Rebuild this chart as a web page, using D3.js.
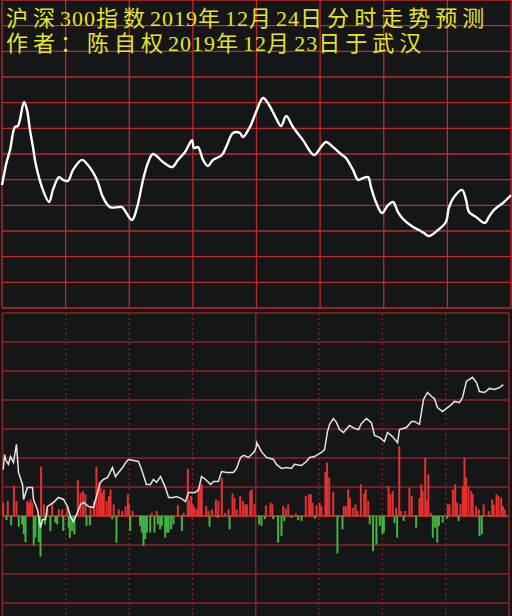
<!DOCTYPE html>
<html>
<head>
<meta charset="utf-8">
<script src="https://cdn.jsdelivr.net/npm/d3@7"></script>
<style>
  body { margin: 0; background: #151618; }
  svg { display: block; }
</style>
</head>
<body>
<div class="chart"></div>
<script>
// Title lines.
const titleLines = [
    '沪深300指数2019年12月24日分时走势预测',
    '作者：陈自权2019年12月23日于武汉'
];

// Top panel: predicted index curve (minute of session, grid units).
const priceMinutes = [0, 2.2, 3.8, 6.1, 7.5, 10.4, 11.8, 13.2, 14.6, 16.0, 19.3, 22.2, 24.0, 26.9, 28.8, 31.1,
    33.5, 37.7, 40.5, 44.8, 47.6, 50.9, 54.7, 56.6, 61.3, 63.7, 66.5, 68.8, 71.2, 75.9, 80.2, 83.0,
    86.3, 89.6, 90.5, 92.4, 94.8, 97.1, 99.5, 103.7, 106.1, 108.9, 112.2, 113.6, 116.9, 119.8, 123.1,
    125.9, 129.2, 131.6, 134.0, 137.2, 141.9, 147.1, 150.4, 152.8, 156.1, 159.8, 162.2, 165.5, 167.9,
    170.2, 172.6, 174.0, 176.3, 179.2, 182.0, 184.4, 186.7, 189.5, 193.8, 196.6, 199.0, 201.3, 205.6,
    209.3, 210.7, 213.1, 216.9, 218.8, 220.2, 223.5, 227.7, 229.6, 232.0, 236.2, 240];
const priceValues = [4.79, 5.69, 6.16, 7.05, 7.09, 8.03, 7.71, 6.93, 6.27, 5.57, 4.60, 4.13, 4.60, 5.10, 4.99, 4.95,
    5.38, 5.77, 5.57, 4.99, 4.32, 3.93, 3.93, 3.93, 3.43, 3.93, 4.99, 5.65, 6.00, 5.69, 5.49, 5.77,
    6.08, 6.54, 6.23, 6.27, 5.77, 5.53, 5.77, 5.96, 6.35, 6.82, 6.82, 6.66, 7.05, 7.64, 8.18,
    7.91, 7.40, 7.09, 7.48, 7.05, 6.54, 5.96, 6.27, 6.47, 6.27, 6.00, 5.84, 5.38, 4.99,
    5.06, 5.10, 4.71, 4.13, 3.70, 4.01, 4.13, 3.74, 3.43, 3.16, 3.04, 2.92, 2.80, 3.04,
    3.35, 3.90, 4.32, 4.60, 4.21, 3.74, 3.55, 3.31, 3.55, 3.82, 4.09, 4.40];

// Bottom panel: white flow line.
const flowMinutes = [0.3, 1.0, 1.4, 2.8, 3.8, 5.2, 6.6, 7.6, 9.5, 10.0, 11.8, 14.2, 14.7, 16.6, 18.0, 19.0, 20.4,
    21.3, 24.2, 26.5, 28.9, 30.8, 32.2, 33.6, 35.5, 37.0, 38.4, 40.7, 43.1, 45.0, 46.4, 47.8, 49.8,
    52.1, 53.5, 55.0, 56.9, 58.3, 59.7, 64.4, 65.9, 68.2, 70.1, 71.5, 73.0, 74.9, 77.2, 78.7, 81.0,
    82.4, 84.8, 86.7, 88.1, 91.4, 92.9, 94.3, 96.2, 98.6, 100.0, 102.3, 103.8, 106.1, 109.4, 110.9,
    112.8, 114.2, 116.6, 118.0, 119.4, 120.3, 120.5, 122.7, 125.1, 128.4, 129.8, 132.2, 134.6, 136.9,
    138.3, 141.7, 144.0, 145.5, 147.8, 151.1, 152.6, 154.0, 155.0, 156.8, 158.3, 159.7, 161.6, 164.4,
    166.8, 168.7, 170.1, 172.5, 174.8, 176.3, 178.6, 181.0, 182.4, 184.8, 187.2, 188.1, 191.4, 193.8,
    195.2, 197.6, 198.5, 199.5, 201.4, 203.3, 204.7, 206.1, 208.5, 210.4, 212.7, 214.2, 216.5, 218.0,
    219.8, 222.7, 224.6, 226.0, 228.4, 230.7, 233.1, 235.5, 237.3];
const flowValues = [1.60, 2.12, 1.95, 1.78, 2.05, 1.84, 2.47, 1.50, 1.09, 0.57, 0.98, 0.98, 0.57, 0.22, -0.40, -0.12, -0.12,
    0.33, 0.47, 0.64, 0.57, 0.33, -0.02, -0.19, 0.12, 0.40, 0.47, 0.33, 0.29, 0.81, 1.16, 1.26, 1.33,
    1.67, 1.36, 1.50, 1.67, 1.84, 1.95, 1.88, 1.60, 1.09, 1.09, 1.26, 1.16, 1.36, 0.98, 0.64, 0.64,
    0.67, 0.60, 0.50, 0.81, 0.81, 0.91, 1.36, 1.26, 1.09, 1.19, 1.19, 1.53, 1.50, 1.50, 1.64,
    2.02, 2.09, 2.02, 2.12, 2.22, 2.40, 2.53, 2.22, 2.02, 1.95, 1.78, 1.64, 1.67, 1.64,
    1.78, 1.74, 1.88, 2.02, 2.05, 2.19, 2.29, 2.91, 3.16, 3.36, 3.22, 2.98, 2.88, 3.12,
    3.02, 2.98, 3.19, 3.36, 3.22, 2.78, 2.71, 2.57, 2.88, 2.74, 2.53, 2.98, 3.05, 3.26,
    3.26, 3.16, 3.57, 4.02, 4.26, 4.12, 4.05, 3.74, 3.60, 3.71, 3.84, 3.95, 3.91, 4.09,
    4.64, 4.78, 4.60, 4.29, 4.26, 4.40, 4.36, 4.43, 4.53];

// Bottom panel: per-minute bars (positive red, negative green).
const barMinutes = [0.3, 1.9, 2.5, 4.1, 5.4, 6.6, 7.7, 9.3, 10.1, 10.9, 11.7, 12.5, 13.3, 14.1, 14.8, 15.6, 17.2, 18.0,
    18.3, 19.6, 20.1, 21.2, 22.7, 23.5, 25.1, 25.9, 26.7, 28.3, 28.8, 30.7, 31.4, 31.9, 33.0, 34.1, 35.7,
    37.0, 38.2, 39.3, 39.8, 41.4, 41.7, 43.3, 44.5, 45.6, 46.4, 47.2, 48.0, 49.3, 50.4, 51.2, 52.0, 52.7,
    54.0, 55.1, 56.7, 58.3, 59.4, 60.0, 60.5, 61.6, 65.2, 66.0, 66.8, 67.6, 68.4, 70.0, 70.7, 72.0, 73.1,
    73.6, 74.7, 75.5, 77.1, 77.9, 78.7, 79.9, 81.0, 83.1, 85.0, 85.8, 87.8, 88.5, 89.4, 90.2, 91.0, 92.1,
    92.9, 93.7, 94.4, 96.5, 97.6, 98.1, 99.2, 101.1, 102.0, 102.3, 103.9, 105.5, 107.1, 107.6, 109.0,
    109.9, 111.0, 112.6, 113.9, 115.0, 115.8, 117.4, 118.1, 119.4, 121.6, 122.7, 124.3, 124.8, 127.0,
    127.9, 128.3, 130.6, 132.2, 133.0, 133.5, 134.2, 135.4, 136.9, 139.0, 140.1, 141.7, 143.7, 145.3,
    146.1, 146.9, 148.0, 148.8, 150.3, 151.1, 153.0, 153.8, 154.8, 156.7, 158.7, 161.1, 161.7, 162.7,
    163.8, 164.6, 166.2, 167.3, 168.2, 169.8, 171.4, 172.1, 173.3, 174.0, 175.6, 177.2, 178.8, 180.0,
    180.7, 182.9, 183.8, 184.9, 185.7, 186.5, 187.0, 188.0, 188.9, 190.1, 190.8, 192.8, 193.9, 196.0,
    197.6, 198.4, 199.1, 200.3, 201.0, 201.8, 203.1, 203.9, 205.0, 206.0, 206.8, 208.6, 210.7, 211.0,
    211.8, 213.4, 214.5, 215.4, 216.1, 217.0, 218.1, 218.9, 219.7, 220.8, 222.1, 222.8, 224.4, 225.7,
    226.0, 227.1, 228.0, 230.4, 231.2, 232.0, 232.8, 234.1, 235.0, 236.3, 237.1, 237.9];
const barValues = [0.46, -0.14, 0.52, -0.32, 1.03, 0.52, -0.37, -0.29, -0.63, -0.90, 0.52, 0.46, 0.57, 0.46, -1.01, -0.75, -0.90, -1.40,
    1.70, 0.40, -0.29, 0.29, -0.52, 0.46, -0.23, -0.29, 0.23, 0.23, -0.52, 0.34, -0.40, -0.75, -0.52, -0.63, 1.24,
    0.80, 0.86, 0.75, -0.34, -0.32, 0.34, 0.52, 1.70, 1.15, 0.98, 0.80, 0.92, 0.52, 0.69, 0.92, -0.11, 0.40,
    -0.92, 0.23, 0.17, 0.34, 0.75, 0.40, -0.52, 0.17, -0.34, -0.57, -1.03, -0.80, -0.57, -0.57, 0.11, -0.57, 0.17,
    -0.29, -0.46, -0.34, -0.75, -0.57, -0.57, -0.46, -0.29, 0.37, -0.52, 0.11, 1.63, 0.52, 0.69, 0.40, 0.29, 0.23,
    0.92, 1.09, 1.09, 0.34, 0.17, -0.37, 0.23, 0.57, -0.06, 0.52, 1.32, 0.11, 0.23, -0.46, 0.78,
    0.63, 0.23, 0.69, 0.52, 0.40, 0.40, 0.86, 0.92, 0.40, -0.29, -0.34, -0.11, 0.37, 0.46,
    0.40, -0.11, -0.92, -0.69, 0.34, -0.17, 0.25, 0.40, -0.06, 0.09, -0.14, -0.17, 0.69, 0.75,
    0.75, 0.46, -0.09, 0.37, 0.46, 0.34, 1.52, 1.84, 1.32, 0.83, -1.29, -0.46, 0.34, 0.34,
    0.92, 0.63, 0.29, 0.40, 0.17, 1.09, 0.78, 0.92, 0.52, -0.29, -1.21, -0.98, -0.34, -0.63,
    -0.57, 1.03, 0.75, 0.86, -0.25, 0.29, -0.75, 2.41, 0.17, -0.17, 0.17, 0.98, 0.69, -0.40,
    0.63, 1.09, 0.86, 2.01, 0.52, 1.44, 0.11, -0.75, -0.40, -0.92, -0.34, -0.23, -0.09, 0.40,
    0.40, 0.92, 1.09, 0.46, -0.17, 0.40, 1.03, 2.01, 1.32, 1.03, 0.86, 0.75, 0.34, 0.23,
    -0.69, -0.63, 0.40, 0.17, -0.03, 0.57, 0.40, 0.75, 0.69, 0.63, 0.34, 0.23];

const gridMinutes = [0, 30, 60, 90, 120, 150, 180, 210, 240];

// Build constants.
const width = 512,
      height = 616;

const svg = d3.select('.chart')
    .append('svg')
        .attr('width', width)
        .attr('height', height);

svg.append('rect')
    .attr('width', width)
    .attr('height', height)
    .attr('fill', '#151618');

// Scales.
const xTop = d3.scaleLinear().domain([0, 240]).range([2, 511]);
const yTop = d3.scaleLinear().domain([0, 12]).range([308, 0]);
const xBot = d3.scaleLinear().domain([0, 240]).range([2.5, 509]);
const yBot = d3.scaleLinear().domain([-4, 7]).range([632, 313]);

// Top grid.
const topGrid = svg.append('g').attr('class', 'top-grid')
    .attr('stroke', '#bd2a2a')
    .attr('stroke-width', 1.3);

topGrid.selectAll('line.h')
    .data(d3.range(0, 13))
    .join('line')
        .attr('class', 'h')
        .attr('x1', xTop(0)).attr('x2', xTop(240))
        .attr('y1', d => yTop(d)).attr('y2', d => yTop(d));

topGrid.selectAll('line.v')
    .data(gridMinutes)
    .join('line')
        .attr('class', 'v')
        .attr('x1', d => xTop(d)).attr('x2', d => xTop(d))
        .attr('y1', yTop(12)).attr('y2', yTop(0));

// Top curve.
const priceLine = d3.line()
    .x((d, i) => xTop(priceMinutes[i]))
    .y(d => yTop(d))
    .curve(d3.curveCatmullRom.alpha(0.5));

svg.append('path')
    .datum(priceValues)
    .attr('fill', 'none')
    .attr('stroke', '#ffffff')
    .attr('stroke-width', 2.4)
    .attr('stroke-linejoin', 'round')
    .attr('d', priceLine);

// Titles: one text per line, per-glyph dx gives CJK and digits their own spacing.
const isDigit = c => /\d/.test(c);

svg.append('g').attr('class', 'title')
    .attr('fill', '#e6e232')
    .attr('font-size', 22)
    .attr('font-family', '"Liberation Serif", "Noto Sans CJK SC", serif')
    .selectAll('text')
    .data(titleLines)
    .join('text')
        .attr('x', 6)
        .attr('y', (d, k) => 25.5 + k * 25.5)
        .attr('dx', d => Array.from(d).map((c, i, a) => i === 0 ? 0 : (isDigit(a[i - 1]) ? 1 : 5)).join(' '))
        .text(d => d);

// Bottom grid.
const botGrid = svg.append('g').attr('class', 'bottom-grid')
    .attr('stroke', '#8c2424')
    .attr('stroke-width', 1.5);

botGrid.selectAll('line.h')
    .data(d3.range(-3, 8))
    .join('line')
        .attr('class', 'h')
        .attr('x1', xBot(0)).attr('x2', xBot(240))
        .attr('y1', d => yBot(d)).attr('y2', d => yBot(d));

botGrid.selectAll('line.v')
    .data(gridMinutes)
    .join('line')
        .attr('class', 'v')
        .attr('x1', d => xBot(d)).attr('x2', d => xBot(d))
        .attr('y1', yBot(7)).attr('y2', height)
        .attr('stroke-width', d => d % 120 === 0 ? 1.5 : 1.3)
        .attr('stroke-dasharray', d => d % 120 === 0 ? null : '2,3');

// Zero line.
svg.append('line')
    .attr('x1', xBot(0)).attr('x2', xBot(240))
    .attr('y1', yBot(0)).attr('y2', yBot(0))
    .attr('stroke', '#b82c2c')
    .attr('stroke-width', 2.2);

// Bars.
svg.append('g').attr('class', 'bars')
    .selectAll('rect')
    .data(barValues)
    .join('rect')
        .attr('x', (d, i) => xBot(barMinutes[i]) - 1)
        .attr('width', 2)
        .attr('y', d => d > 0 ? yBot(d) : yBot(0))
        .attr('height', d => Math.abs(yBot(d) - yBot(0)))
        .attr('fill', d => d > 0 ? '#e63131' : '#40b640');

// Flow line.
const flowLine = d3.line()
    .x((d, i) => xBot(flowMinutes[i]))
    .y(d => yBot(d));

svg.append('path')
    .datum(flowValues)
    .attr('fill', 'none')
    .attr('stroke', '#e4e4e4')
    .attr('stroke-width', 1.5)
    .attr('d', flowLine);
</script>
</body>
</html>
